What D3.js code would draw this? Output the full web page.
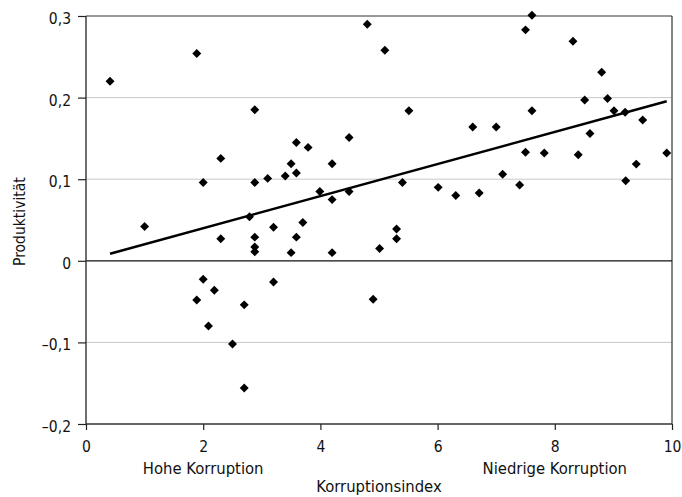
<!DOCTYPE html>
<html><head><meta charset="utf-8">
<script src="https://cdn.jsdelivr.net/npm/d3@7"></script>
<style>
html,body{margin:0;padding:0;background:#fff;}
text{font-family:"DejaVu Sans Condensed",sans-serif;fill:#111;}
</style></head>
<body>
<svg id="c" width="682" height="497"></svg>
<script>
const korruptionsindex = [0.41,1.00,1.89,1.89,2.00,2.00,2.09,2.19,2.30,2.30,2.50,2.70,2.70,2.79,2.88,2.88,2.88,2.88,2.88,3.10,3.20,3.20,3.40,3.50,3.50,3.59,3.59,3.59,3.70,3.79,3.99,4.20,4.20,4.20,4.49,4.49,4.80,4.90,5.01,5.10,5.30,5.30,5.40,5.51,6.01,6.31,6.60,6.71,7.00,7.11,7.40,7.50,7.50,7.61,7.61,7.82,8.31,8.40,8.51,8.60,8.80,8.90,9.01,9.20,9.21,9.39,9.50,9.91];
const produktivitaet = [0.220,0.042,0.254,-0.048,0.096,-0.0225,-0.080,-0.036,0.1255,0.027,-0.102,-0.054,-0.156,0.054,0.185,0.096,0.029,0.017,0.011,0.101,0.041,-0.026,0.104,0.119,0.010,0.145,0.1075,0.029,0.047,0.139,0.085,0.119,0.075,0.010,0.151,0.085,0.290,-0.047,0.015,0.258,0.039,0.027,0.096,0.184,0.090,0.080,0.164,0.083,0.164,0.106,0.093,0.283,0.133,0.301,0.184,0.132,0.269,0.130,0.197,0.156,0.231,0.199,0.184,0.182,0.098,0.1185,0.1725,0.132];
const trendX = [0.41, 9.91];
const trendY = [0.0086, 0.1955];
const xTicks = [0,2,4,6,8,10];
const yTicks = [-0.2,-0.1,0,0.1,0.2,0.3];
const yGrid = [-0.1,0.1,0.2];
const xNotes = [{x:2,label:"Hohe Korruption"},{x:8,label:"Niedrige Korruption"}];

const svg = d3.select("#c");
const L=86, R=672, T=16, B=424;
const x = d3.scaleLinear().domain([0,10]).range([L,R]);
const y = d3.scaleLinear().domain([-0.2,0.3]).range([B,T]);
const FONT = '"DejaVu Sans Condensed",sans-serif';

svg.append("g").selectAll("line").data(yGrid).join("line")
  .attr("x1",L).attr("x2",R).attr("y1",d=>y(d)).attr("y2",d=>y(d))
  .attr("stroke","#c8c8c8").attr("stroke-width",1);
svg.append("line").attr("x1",L).attr("x2",R).attr("y1",y(0.3)).attr("y2",y(0.3)).attr("stroke","#333").attr("stroke-width",1.2);
svg.append("line").attr("x1",R).attr("x2",R).attr("y1",T).attr("y2",B).attr("stroke","#333").attr("stroke-width",1.2);
svg.append("line").attr("x1",L).attr("x2",R).attr("y1",y(0)).attr("y2",y(0)).attr("stroke","#111").attr("stroke-width",1.3);

const fmt = d => d===0 ? "0" : (d<0?"\u2013":"") + Math.abs(d).toFixed(1).replace(".",",");
const yAxis = svg.append("g").attr("transform",`translate(${L},0)`)
  .call(d3.axisLeft(y).tickValues(yTicks).tickFormat(fmt).tickSize(8).tickPadding(7));
const xAxis = svg.append("g").attr("transform",`translate(0,${B})`)
  .call(d3.axisBottom(x).tickValues(xTicks).tickFormat(d=>String(d)).tickSize(6).tickPadding(11));
[yAxis,xAxis].forEach(a=>{
  a.select(".domain").attr("stroke","#333").attr("stroke-width",1.4);
  a.selectAll(".tick line").attr("stroke","#222").attr("stroke-width",1.2);
  a.selectAll("text").style("font-family",FONT).style("font-size","15.5px").attr("fill","#111");
});
yAxis.selectAll(".tick text").attr("dy","0.48em");
xAxis.select(".domain").attr("d",`M${L},0H${R}`);
yAxis.select(".domain").attr("d",`M0,${T}V${B}`);

svg.append("path").datum(d3.zip(trendX,trendY))
  .attr("d",d3.line().x(d=>x(d[0])).y(d=>y(d[1])))
  .attr("stroke","#000").attr("stroke-width",2.4).attr("fill","none");

const sym = d3.symbol().type(d3.symbolSquare).size(40);
svg.append("g").selectAll("path").data(d3.zip(korruptionsindex,produktivitaet)).join("path")
  .attr("d",sym).attr("transform",d=>`translate(${x(d[0])},${y(d[1])}) rotate(45)`)
  .attr("fill","#000");

svg.append("g").selectAll("text").data(xNotes).join("text")
  .attr("x",d=>x(d.x)).attr("y",474).attr("text-anchor","middle")
  .style("font-size","16.5px").text(d=>d.label);
svg.append("text").attr("x",x(5)).attr("y",492).attr("text-anchor","middle")
  .style("font-size","16.5px").text("Korruptionsindex");
svg.append("text").attr("transform",`translate(25,${y(0.048)}) rotate(-90)`)
  .attr("text-anchor","middle").style("font-size","15.5px").text("Produktivität");
</script>
</body></html>
